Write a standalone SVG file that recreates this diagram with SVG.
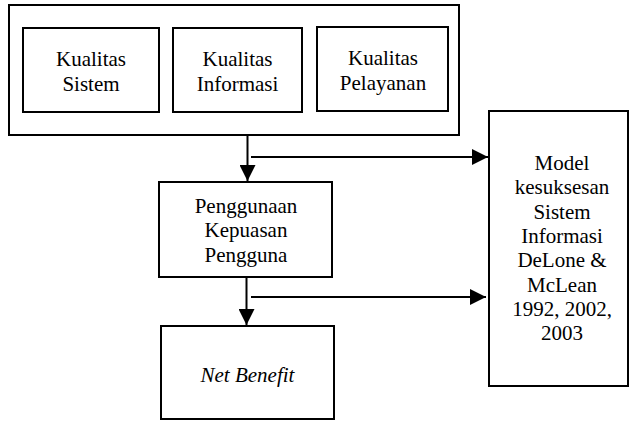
<svg xmlns="http://www.w3.org/2000/svg" width="630" height="421" viewBox="0 0 630 421">
<style>
.box{fill:#fff;stroke:#000;stroke-width:2}
.t{font-family:'Liberation Serif','DejaVu Serif',serif;font-size:21px;fill:#000;text-anchor:middle}
.ln{stroke:#000;stroke-width:2;fill:none}
</style>
<defs>
<marker id="ah" markerUnits="userSpaceOnUse" markerWidth="16" markerHeight="16" viewBox="0 0 15 15" refX="15" refY="7.5" orient="auto">
<polygon points="0,0 15,7.5 0,15" fill="#000"/>
</marker>
</defs>
<rect width="630" height="421" fill="#fff"/>
<g id="kualitas-group">
<rect class="box" x="9" y="5" width="450" height="130"/>
</g>
<g id="kualitas-sistem">
<rect class="box" x="23" y="28" width="136" height="84"/>
<text class="t" x="91" y="66">Kualitas</text>
<text class="t" x="91" y="90.5">Sistem</text>
</g>
<g id="kualitas-informasi">
<rect class="box" x="173" y="28" width="129" height="84"/>
<text class="t" x="237.5" y="66">Kualitas</text>
<text class="t" x="237.5" y="90.5">Informasi</text>
</g>
<g id="kualitas-pelayanan">
<rect class="box" x="317" y="27" width="131" height="84"/>
<text class="t" x="383" y="65">Kualitas</text>
<text class="t" x="383" y="89.5">Pelayanan</text>
</g>
<g id="penggunaan">
<rect class="box" x="159" y="182" width="173" height="95"/>
<text class="t" x="246" y="213">Penggunaan</text>
<text class="t" x="246" y="237.3">Kepuasan</text>
<text class="t" x="246" y="261.6">Pengguna</text>
</g>
<g id="net-benefit">
<rect class="box" x="161" y="326" width="173" height="93"/>
<text class="t" x="247.5" y="382" font-style="italic">Net Benefit</text>
</g>
<g id="model">
<rect class="box" x="489" y="111" width="139" height="275"/>
<text class="t" x="562" y="170">Model</text>
<text class="t" x="562" y="194.3">kesuksesan</text>
<text class="t" x="562" y="218.6">Sistem</text>
<text class="t" x="562" y="243">Informasi</text>
<text class="t" x="562" y="267.3">DeLone &amp;</text>
<text class="t" x="562" y="291.6">McLean</text>
<text class="t" x="562" y="316">1992, 2002,</text>
<text class="t" x="562" y="340.3">2003</text>
</g>
<g id="connectors">
<line class="ln" x1="247.5" y1="135" x2="247.5" y2="181" marker-end="url(#ah)"/>
<line class="ln" x1="251" y1="157" x2="488" y2="157" marker-end="url(#ah)"/>
<line class="ln" x1="246.5" y1="277" x2="246.5" y2="325" marker-end="url(#ah)"/>
<line class="ln" x1="251" y1="297" x2="486" y2="297" marker-end="url(#ah)"/>
</g>
</svg>
